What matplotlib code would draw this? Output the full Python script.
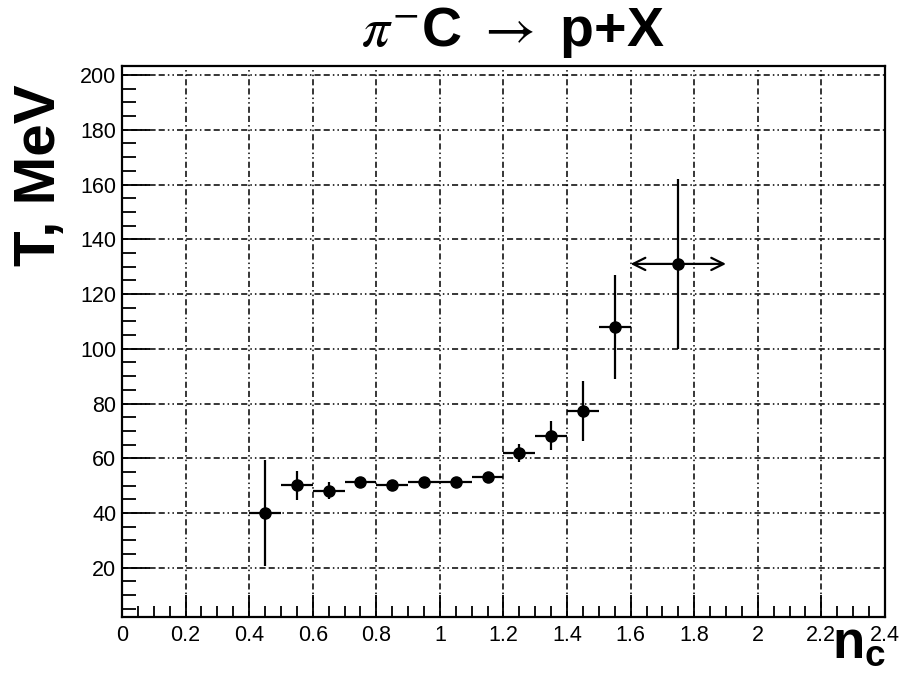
import numpy as np
import matplotlib
matplotlib.use("Agg")
import matplotlib.pyplot as plt
from matplotlib.ticker import MultipleLocator

plt.rcParams['font.family'] = ['Liberation Sans', 'DejaVu Sans']
plt.rcParams['mathtext.fontset'] = 'custom'
plt.rcParams['mathtext.rm'] = 'Liberation Sans'
plt.rcParams['mathtext.bf'] = 'Liberation Sans:bold'
plt.rcParams['mathtext.it'] = 'Liberation Sans:italic'

# valeurs
nc = [0.45, 0.55, 0.65, 0.75, 0.85, 0.95, 1.05, 1.15, 1.25, 1.35, 1.45, 1.55]
T = [40.0, 50.2, 48.2, 51.2, 50.3, 51.2, 51.2, 53.0, 62.0, 68.2, 77.3, 108.1]
T_err = [19.5, 5.3, 3.0, 1.5, 1.0, 1.0, 1.0, 2.0, 3.3, 5.3, 11.0, 19.0]
nc_err = [0.05] * len(nc)

# dernier point (bin large, fleches)
nc_last = 1.75
nc_last_err = 0.15
T_last = 131.0
T_last_err = 31.0

x_ticks = [0, 0.2, 0.4, 0.6, 0.8, 1, 1.2, 1.4, 1.6, 1.8, 2, 2.2, 2.4]
x_labels = ['0', '0.2', '0.4', '0.6', '0.8', '1', '1.2', '1.4', '1.6', '1.8', '2', '2.2', '2.4']
y_ticks = [20, 40, 60, 80, 100, 120, 140, 160, 180, 200]

fig = plt.figure(figsize=(9.03, 6.73), dpi=100)
ax = fig.add_axes([0.1351, 0.0832, 0.8449, 0.8187])

grid_style = (0, (4, 2, 4, 2, 1, 2, 1, 2))
for xv in x_ticks[1:-1]:
    ax.axvline(xv, color='black', lw=1.1, ls=grid_style, zorder=1)
for yv in y_ticks:
    ax.axhline(yv, color='black', lw=1.1, ls=grid_style, zorder=1)

ax.errorbar(nc, T, xerr=nc_err, yerr=T_err, fmt='o', color='black',
            ms=8, elinewidth=1.6, capsize=0, zorder=3)
ax.errorbar([nc_last], [T_last], yerr=[T_last_err], fmt='o', color='black',
            ms=8, elinewidth=1.6, capsize=0, zorder=3)
ax.annotate('', xy=(nc_last - nc_last_err, T_last), xytext=(nc_last, T_last),
            arrowprops=dict(arrowstyle='->', lw=1.6, color='black',
                            mutation_scale=22, shrinkA=0, shrinkB=0), zorder=3)
ax.annotate('', xy=(nc_last + nc_last_err, T_last), xytext=(nc_last, T_last),
            arrowprops=dict(arrowstyle='->', lw=1.6, color='black',
                            mutation_scale=22, shrinkA=0, shrinkB=0), zorder=3)

ax.set_xlim(0, 2.4)
ax.set_ylim(2, 203.3)
ax.set_xticks(x_ticks)
ax.set_xticklabels(x_labels)
ax.set_yticks(y_ticks)
ax.xaxis.set_minor_locator(MultipleLocator(0.05))
ax.yaxis.set_minor_locator(MultipleLocator(5))
ax.tick_params(which='major', direction='in', labelsize=15.5, width=1.3, color='black')
ax.tick_params(axis='y', which='major', length=20, pad=4)
ax.tick_params(axis='x', which='major', length=16, pad=6)
ax.tick_params(axis='y', which='minor', direction='in', length=10, width=1.3)
ax.tick_params(axis='x', which='minor', direction='in', length=8, width=1.3)
for s in ax.spines.values():
    s.set_linewidth(1.6)

fig.text(0.568, 0.951, r'$\pi^{-}$C $\rightarrow$ p+X', fontsize=40,
         fontweight='bold', ha='center', va='center', math_fontfamily='stix')
fig.text(0.044, 0.74, 'T, MeV', fontsize=42, fontweight='bold',
         rotation=90, ha='center', va='center')
fig.text(0.951, 0.006, r'$\mathbf{n}_{\mathbf{c}}$', fontsize=38,
         ha='center', va='bottom')

fig.savefig('out.png', dpi=100)
